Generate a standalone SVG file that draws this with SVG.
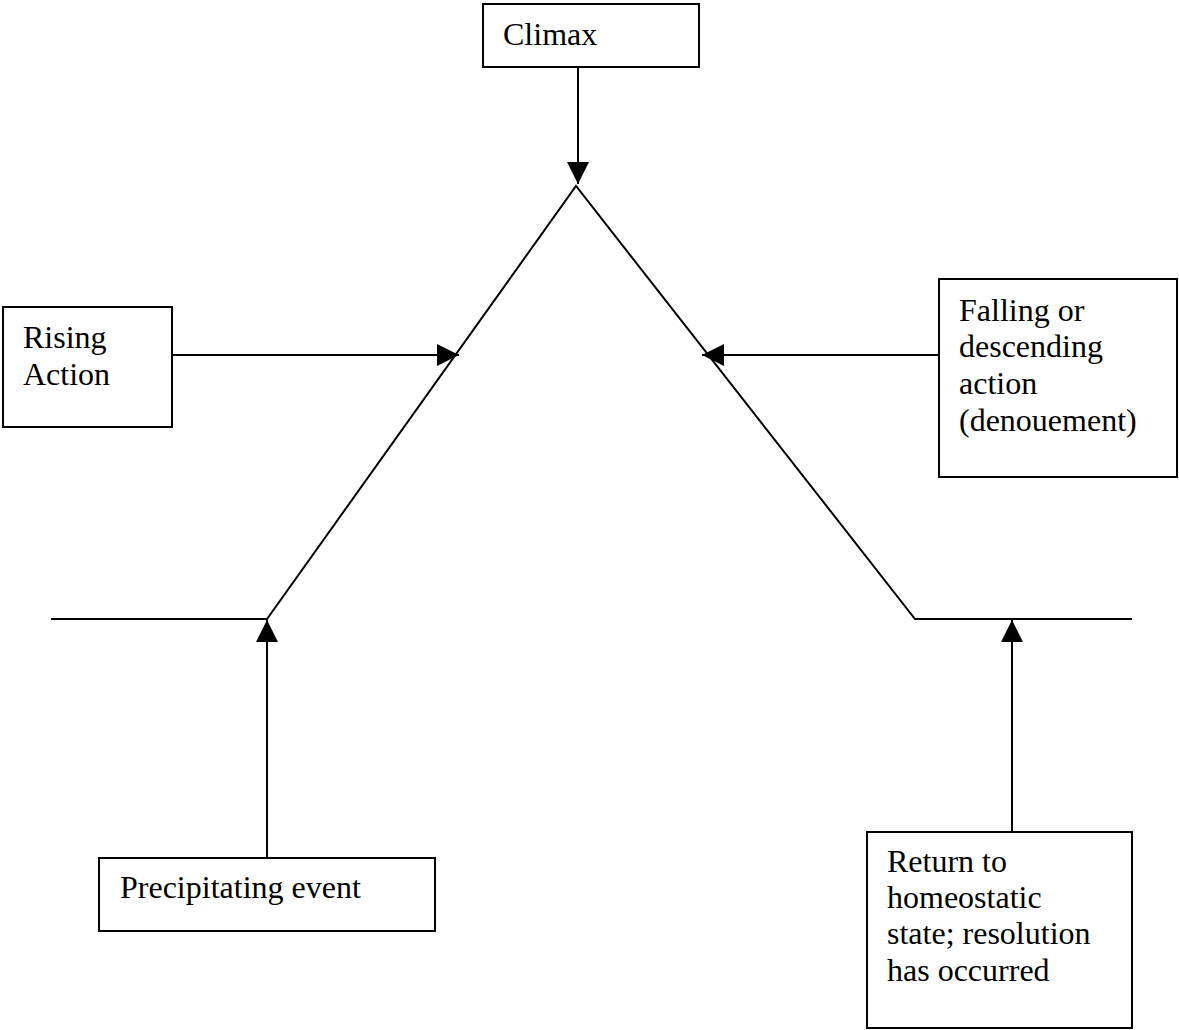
<svg xmlns="http://www.w3.org/2000/svg" width="1179" height="1030" viewBox="0 0 1179 1030">
<style>
.box{fill:#fff;stroke:#000;stroke-width:2}
.ln{fill:none;stroke:#000;stroke-width:2}
.t{font-family:"Liberation Serif","Times New Roman",serif;font-size:32px;fill:#000}
</style>
<defs>
<marker id="ah" markerUnits="userSpaceOnUse" markerWidth="22" markerHeight="22" viewBox="0 0 20 20" refX="20" refY="10" orient="auto">
<path d="M0,0 L20,10 L0,20 Z" fill="#000"/>
</marker>
</defs>
<rect width="1179" height="1030" fill="#fff"/>
<g id="connectors">
<polyline class="ln" points="51,619 267,619 576,186 915,619 1132,619"/>
<line class="ln" x1="578" y1="67" x2="578" y2="184" marker-end="url(#ah)"/>
<line class="ln" x1="172" y1="355" x2="459" y2="355" marker-end="url(#ah)"/>
<line class="ln" x1="939" y1="355" x2="702" y2="355" marker-end="url(#ah)"/>
<line class="ln" x1="267" y1="858" x2="267" y2="620" marker-end="url(#ah)"/>
<line class="ln" x1="1012" y1="832" x2="1012" y2="620" marker-end="url(#ah)"/>
</g>
<g id="climax">
<rect class="box" x="483" y="4" width="216" height="63"/>
<text class="t" x="503" y="45">Climax</text>
</g>
<g id="rising">
<rect class="box" x="3" y="307" width="169" height="120"/>
<text class="t" x="23" y="348">Rising</text>
<text class="t" x="23" y="385">Action</text>
</g>
<g id="falling">
<rect class="box" x="939" y="279" width="238" height="198"/>
<text class="t" x="959" y="321">Falling or</text>
<text class="t" x="959" y="357">descending</text>
<text class="t" x="959" y="394">action</text>
<text class="t" x="959" y="431">(denouement)</text>
</g>
<g id="precipitating">
<rect class="box" x="99" y="858" width="336" height="73"/>
<text class="t" x="120" y="898">Precipitating event</text>
</g>
<g id="return">
<rect class="box" x="867" y="832" width="265" height="196"/>
<text class="t" x="887" y="872">Return to</text>
<text class="t" x="887" y="908">homeostatic</text>
<text class="t" x="887" y="944">state; resolution</text>
<text class="t" x="887" y="981">has occurred</text>
</g>
</svg>
